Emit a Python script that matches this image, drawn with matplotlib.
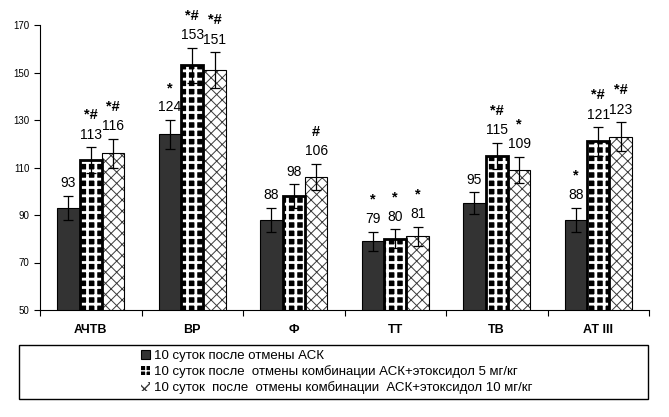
import matplotlib
matplotlib.use("Agg")
import matplotlib.pyplot as plt
import numpy as np
from matplotlib.patches import Rectangle

plt.rcParams["font.family"] = ["Liberation Sans", "DejaVu Sans"]

# Data
categories = ["АЧТВ", "ВР", "Ф", "ТТ", "ТВ", "АТ III"]
series_names = [
    "10 суток после отмены АСК",
    "10 суток после  отмены комбинации АСК+этоксидол 5 мг/кг",
    "10 суток  после  отмены комбинации  АСК+этоксидол 10 мг/кг",
]
ask = [93, 124, 88, 79, 95, 88]
ask_err = [5, 6, 5, 4, 4.5, 5]
eto5 = [113, 153, 98, 80, 115, 121]
eto5_err = [5.5, 7.5, 5, 4, 5.5, 6]
eto10 = [116, 151, 106, 81, 109, 123]
eto10_err = [6, 7.5, 5.5, 4, 5.5, 6]
marks_ask = ["", "*", "", "*", "", "*"]
marks_5 = ["*#", "*#", "", "*", "*#", "*#"]
marks_10 = ["*#", "*#", "#", "*", "*", "*#"]


def set_hatch_lw(bars, lw):
    for p in bars:
        if hasattr(p, "set_hatch_linewidth"):
            p.set_hatch_linewidth(lw)


fig = plt.figure(figsize=(6.69, 4.17), dpi=100)
ax = fig.add_axes([40 / 669, 1 - 310 / 417, 609 / 669, 285 / 417])

x = np.arange(len(categories))
w = 0.22

# dark bars
b1 = ax.bar(x - w, ask, w, color="#333333", edgecolor="black", linewidth=0.8, zorder=2)

# dotted bars: black face cut into small blocks by a white grid, then a thick outline
with plt.rc_context({"hatch.linewidth": 2.0}):
    b2 = ax.bar(x, eto5, w, color="black", edgecolor="white", hatch="++",
                linewidth=0, zorder=2)
set_hatch_lw(b2, 2.0)
ax.bar(x, eto5, w, color="none", edgecolor="black", linewidth=2, zorder=3)

# crosshatched bars
with plt.rc_context({"hatch.linewidth": 0.7}):
    b3 = ax.bar(x + w, eto10, w, color="white", edgecolor="#3a3a3a", hatch="xxx",
                linewidth=0, zorder=2)
set_hatch_lw(b3, 0.7)
ax.bar(x + w, eto10, w, color="none", edgecolor="black", linewidth=0.8, zorder=3)

# error bars
for off, vals, errs in [(-w, ask, ask_err), (0, eto5, eto5_err), (w, eto10, eto10_err)]:
    ax.errorbar(x + off, vals, yerr=errs, fmt="none", ecolor="black",
                elinewidth=0.9, capsize=3.5, capthick=0.9, zorder=4)

# value labels and significance marks
for off, vals, errs, marks in [(-w, ask, ask_err, marks_ask),
                               (0, eto5, eto5_err, marks_5),
                               (w, eto10, eto10_err, marks_10)]:
    for xi, v, e, m in zip(x + off, vals, errs, marks):
        ax.annotate(str(v), (xi, v + e), xytext=(0, 4), textcoords="offset points",
                    ha="center", va="bottom", fontsize=10)
        if m:
            ax.annotate(m, (xi, v + e), xytext=(0, 18), textcoords="offset points",
                        ha="center", va="bottom", fontsize=10.5, fontweight="bold")

ax.set_ylim(50, 170)
ax.set_xlim(-0.5, len(categories) - 0.5)
ax.set_yticks(range(50, 171, 20))
ax.tick_params(axis="y", labelsize=7, length=4, width=0.8)

# category labels between boundary ticks
ax.set_xticks(np.arange(len(categories) + 1) - 0.5)
ax.set_xticklabels([])
ax.tick_params(axis="x", length=4, width=0.8)
for xi, c in zip(x, categories):
    ax.text(xi, -0.07, c, transform=ax.get_xaxis_transform(), ha="center",
            va="center", fontsize=9, fontweight="bold")

ax.spines["top"].set_visible(False)
ax.spines["right"].set_visible(False)
ax.spines["left"].set_linewidth(0.8)
ax.spines["bottom"].set_linewidth(0.8)

# legend in a wide frame
fig.patches.append(Rectangle((19 / 669, 1 - 399 / 417), 629 / 669, 54 / 417,
                             transform=fig.transFigure, facecolor="none",
                             edgecolor="black", linewidth=1))
fig.legend([b1, b2, b3], series_names, loc="center", bbox_to_anchor=(0.503, 1 - 372 / 417),
           frameon=False, fontsize=9.5, handlelength=0.7, handleheight=0.7,
           handletextpad=0.3, labelspacing=0.25, borderpad=0)

fig.savefig("out.png", dpi=100)
plt.close()
